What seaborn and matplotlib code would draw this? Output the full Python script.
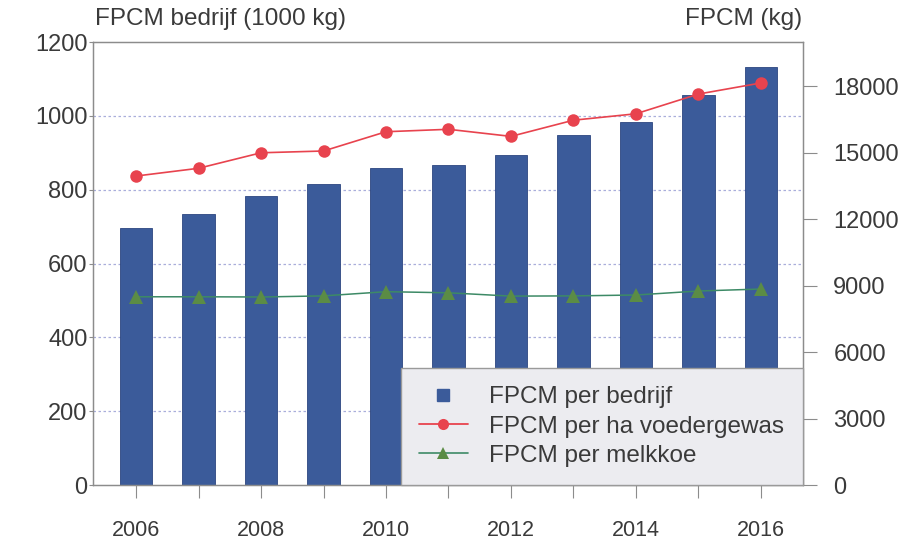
import numpy as np
import pandas as pd
import matplotlib.pyplot as plt
import seaborn as sns
from matplotlib.lines import Line2D

# data
jaren = [2006, 2007, 2008, 2009, 2010, 2011, 2012, 2013, 2014, 2015, 2016]
fpcm_bedrijf = [697, 733, 782, 815, 860, 868, 895, 947, 983, 1056, 1132]
fpcm_per_ha = [13950, 14300, 15000, 15080, 15950, 16060, 15740, 16470, 16760, 17650, 18150]
fpcm_per_koe = [8500, 8500, 8490, 8540, 8730, 8680, 8530, 8540, 8580, 8760, 8850]

df = pd.DataFrame({"jaar": jaren, "bedrijf": fpcm_bedrijf,
                   "ha": fpcm_per_ha, "koe": fpcm_per_koe})

sns.set_theme(style="white")
plt.rcParams['font.family'] = ['Liberation Sans', 'DejaVu Sans']
txt = '#3a3a3a'
spine_c = '#8c8c8c'

fig = plt.figure(figsize=(9.07, 5.42), dpi=100)
ax = fig.add_axes([0.1025, 0.105, 0.7825, 0.8175])

sns.barplot(data=df, x="jaar", y="bedrijf", color='#3b5b9a', width=0.52,
            saturation=1, ax=ax, zorder=2)
for p in ax.patches:
    p.set_edgecolor('#2c4680')
    p.set_linewidth(0.6)

ax.set_ylim(0, 1200)
ax.set_xlim(-0.69, 10.67)
ax.set_yticks(range(0, 1201, 200))
ax.set_xlabel('')
ax.set_ylabel('')
ax.set_xticks(range(len(jaren)))
ax.set_xticklabels([str(j) if j % 2 == 0 else '' for j in jaren])
for y in range(200, 1200, 200):
    ax.axhline(y, color='#a9aedb', linestyle=(0, (2, 2)), linewidth=0.9, zorder=1)

ax.tick_params(axis='y', direction='out', length=3, width=0.8, color=spine_c,
               labelsize=17, labelcolor=txt, pad=1, left=True)
ax.tick_params(axis='x', direction='out', length=9, width=0.8, color=spine_c,
               labelsize=15.5, labelcolor=txt, pad=16, bottom=True)
for s in ax.spines.values():
    s.set_color(spine_c)
    s.set_linewidth(0.9)

ax2 = ax.twinx()
x = np.arange(len(jaren))
sns.lineplot(x=x, y=fpcm_per_ha, ax=ax2, color='#e8434e', marker='o',
             markersize=9, markeredgewidth=0, linewidth=1.2)
sns.lineplot(x=x, y=fpcm_per_koe, ax=ax2, color='#3d8a66', marker='^',
             markersize=10, markerfacecolor='#5b8c45', markeredgewidth=0,
             linewidth=1.1)
ax2.set_ylim(0, 20000)
ax2.set_yticks(range(0, 18001, 3000))
ax2.tick_params(axis='y', direction='out', length=10, width=0.8, color=spine_c,
                labelsize=17, labelcolor=txt, pad=12, right=True)
ax2.set_xlim(-0.69, 10.67)
for s in ax2.spines.values():
    s.set_color(spine_c)
    s.set_linewidth(0.9)

fig.text(0.105, 0.945, 'FPCM bedrijf (1000 kg)', fontsize=17.5, color=txt,
         ha='left', va='bottom')
fig.text(0.884, 0.945, 'FPCM (kg)', fontsize=17.5, color=txt,
         ha='right', va='bottom')

handles = [
    Line2D([], [], linestyle='none', marker='s', markersize=9,
           color='#3b5b9a'),
    Line2D([], [], color='#e8434e', marker='o', markersize=8, linewidth=1.3,
           markeredgewidth=0),
    Line2D([], [], color='#3d8a66', marker='^', markersize=9, linewidth=1.2,
           markerfacecolor='#5b8c45', markeredgewidth=0),
]
labels = ['FPCM per bedrijf', 'FPCM per ha voedergewas', 'FPCM per melkkoe']
leg = ax2.legend(handles, labels, loc='lower right', bbox_to_anchor=(1.0, 0.0),
                 fontsize=17.5, frameon=True, fancybox=False, borderaxespad=0,
                 handlelength=2.0, labelspacing=0.3, borderpad=0.75,
                 handletextpad=0.9, labelcolor=txt)
leg.get_frame().set_facecolor('#ececf0')
leg.get_frame().set_edgecolor('#9a9a9a')
leg.get_frame().set_alpha(1)

fig.savefig('out.png', dpi=100)
